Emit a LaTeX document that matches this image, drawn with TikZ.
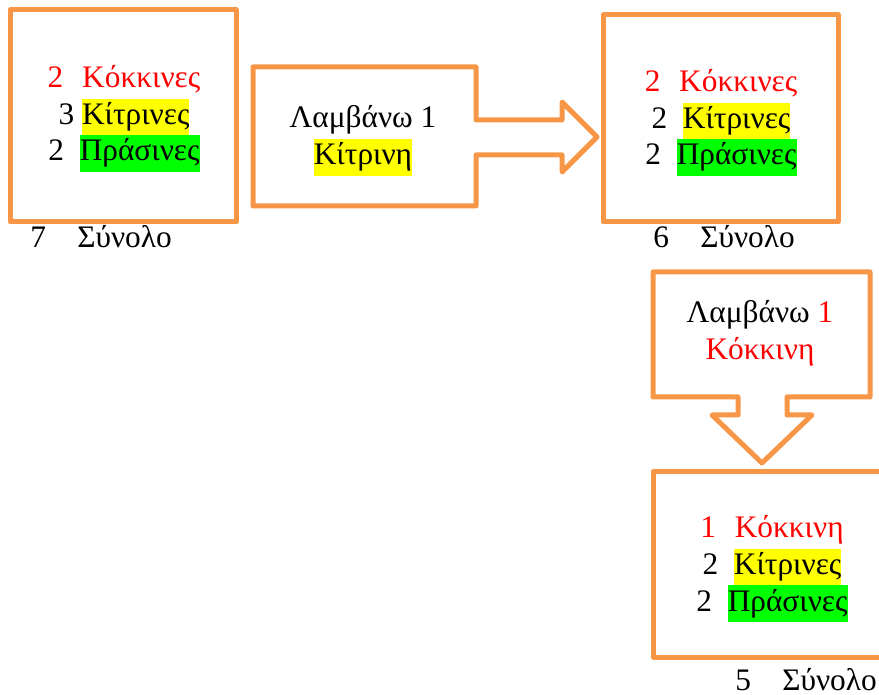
\documentclass[tikz,border=0pt]{standalone}
\usepackage{fontspec}
\setmainfont{Liberation Serif}
\definecolor{frameorange}{HTML}{F79646}
\definecolor{hlyellow}{HTML}{FFFF00}
\definecolor{hlgreen}{HTML}{00FF00}
\definecolor{ballred}{HTML}{FF0000}
% highlighted word, full line height
\newcommand{\hlword}[2]{{\setlength{\fboxsep}{0pt}\colorbox{#1}{\strut #2}}}
\newcommand{\redline}[1]{\strut\textcolor{ballred}{#1}}
\tikzset{
  boxline/.style={draw=frameorange, line width=3.75pt, line join=round},
  boxtext/.style={align=center, inner sep=0pt, font=\fontsize{23.5}{27.5}\selectfont},
  total/.style={anchor=base west, inner sep=0pt, font=\fontsize{23.5}{27.5}\selectfont},
}
\begin{document}
\begin{tikzpicture}[x=0.75pt, y=-0.75pt]
    \useasboundingbox (0,0) rectangle (879,695);
    \clip (0,0) rectangle (879,695);
    % three jars
    \draw[boxline] (10,10) rectangle (236,222);
    \draw[boxline] (603,15) rectangle (838,222);
    \draw[boxline] (653,472) rectangle (905,657);
    % arrow callouts
    \draw[boxline] (253,67) -- (476,67) -- (476,120) -- (562,120) -- (562,102)
        -- (597,137) -- (562,172) -- (562,155) -- (476,155) -- (476,206)
        -- (253,206) -- cycle;
    \draw[boxline] (653,272) -- (870,272) -- (870,397) -- (787,397) -- (787,415)
        -- (812,415) -- (762,463) -- (712,415) -- (738,415) -- (738,397)
        -- (653,397) -- cycle;
    % contents
    \node[boxtext] (jarA) at (124,117)
        {\redline{2\hspace{0.6em}Κόκκινες}\\
         \strut 3 \hlword{hlyellow}{Κίτρινες}\\
         \strut 2\hspace{0.5em}\hlword{hlgreen}{Πράσινες}};
    \node[boxtext] (jarB) at (721,121)
        {\redline{2\hspace{0.6em}Κόκκινες}\\
         \strut 2\hspace{0.5em}\hlword{hlyellow}{Κίτρινες}\\
         \strut 2\hspace{0.5em}\hlword{hlgreen}{Πράσινες}};
    \node[boxtext] (jarC) at (772,567)
        {\redline{1\hspace{0.6em}Κόκκινη}\\
         \strut 2\hspace{0.5em}\hlword{hlyellow}{Κίτρινες}\\
         \strut 2\hspace{0.5em}\hlword{hlgreen}{Πράσινες}};
    \node[boxtext] (takeA) at (363,139)
        {\strut Λαμβάνω 1\\ \hlword{hlyellow}{Κίτρινη}};
    \node[boxtext] (takeB) at (760,334)
        {\strut Λαμβάνω \textcolor{ballred}{1}\\ \redline{Κόκκινη}};
    % totals
    \node[total] (sumA) at (30,248) {7\hspace{1em}Σύνολο};
    \node[total] (sumB) at (653,248) {6\hspace{1em}Σύνολο};
    \node[total] (sumC) at (735,690) {5\hspace{1em}Σύνολο};
\end{tikzpicture}
\end{document}
